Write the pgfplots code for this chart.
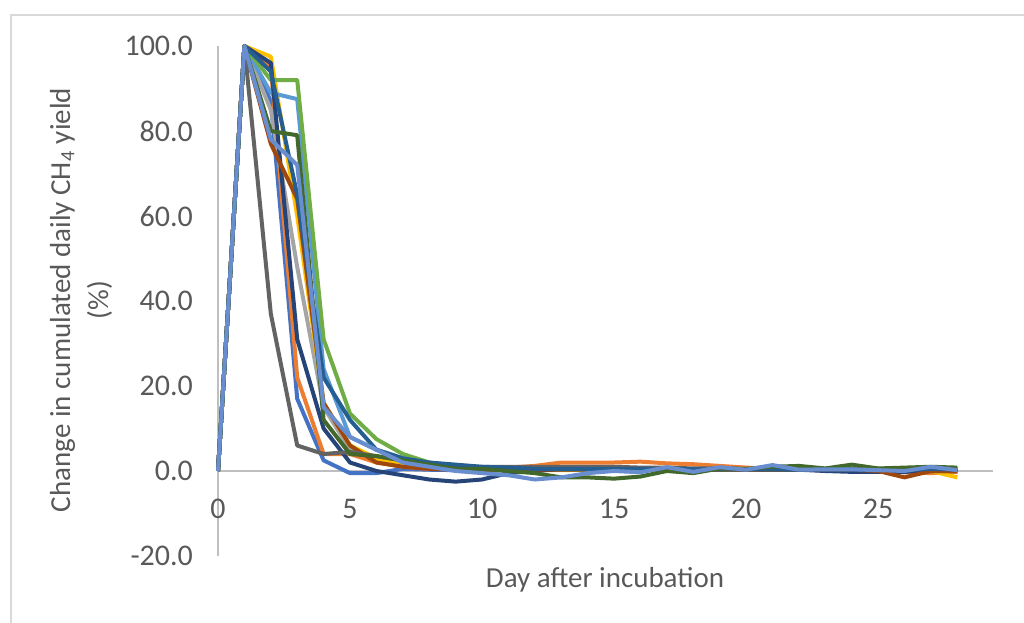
\documentclass[border=0pt]{standalone}
\usepackage{pgfplots}
\pgfplotsset{compat=1.18}
\usepackage{pgfplotstable}
\usepackage{fontspec}
\setmainfont{Carlito}
\definecolor{txt}{HTML}{595959}
\definecolor{axl}{HTML}{BFBFBF}
\definecolor{frm}{HTML}{D9D9D9}
\definecolor{c1}{HTML}{4472C4}
\definecolor{c2}{HTML}{ED7D31}
\definecolor{c3}{HTML}{A5A5A5}
\definecolor{c4}{HTML}{FFC000}
\definecolor{c5}{HTML}{5B9BD5}
\definecolor{c6}{HTML}{70AD47}
\definecolor{c7}{HTML}{264478}
\definecolor{c8}{HTML}{9E480E}
\definecolor{c9}{HTML}{636363}
\definecolor{c10}{HTML}{255E91}
\definecolor{c11}{HTML}{43682B}
\definecolor{c12}{HTML}{698ED0}
\pgfplotstableread{
d s1 s2 s3 s4 s5 s6 s7 s8 s9 s10 s11 s12
0 0 0 0 0 0 0 0 0 0 0 0 0
1 100 100 100 100 100 100 100 100 100 100 100 100
2 87 95 85 97.5 89 92 96 77 37 94 80 78
3 17 22 48 60 87.5 92 31 64 6 65 79 72
4 2.5 4 15 16 24 31 10 16 4 22 12 15
5 -0.5 4 5 6 8 13.5 2 6 4.5 12 4 8
6 -0.5 2 3 3 5 7.5 0 2 3.5 5 3.5 5
7 0.5 1 2 1.5 3 4 -1 1 2.5 3 2.5 2
8 0.3 0.5 1 1 1.5 2 -2 0.5 1.5 2 1.5 1
9 0.2 0.5 0.8 0.5 1 1.2 -2.5 0.3 1 1.5 0.5 0
10 0 0.5 0.6 0.3 0.5 0.8 -2 0.2 1 1 0.5 -0.5
11 0.2 0.8 0.5 0.2 0.3 0.5 -0.5 0.2 1 0.8 0 -1
12 0.3 1.2 0.5 0.2 0.3 0.4 0 0.3 1 0.5 -0.5 -2
13 0.5 2 0.5 0.2 0.3 0.3 0.5 0.3 1 0.5 -1.5 -1.5
14 0.5 2 0.5 0.3 0.3 0.3 0.5 0.3 1 0.5 -1.5 -0.5
15 0.6 2 0.5 0.3 0.3 0.3 0.5 0.3 1 0.5 -1.8 0
16 0.5 2.2 0.5 0.3 0.3 0.3 0.5 0.3 0.8 0.5 -1.3 -0.3
17 0.5 1.8 0.5 0.3 0.3 0.3 0.5 0.3 0.8 0.5 0 0.9
18 0.4 1.6 0.5 0.3 0.3 0.3 0.4 0.3 0.6 0.4 -0.5 -0.2
19 0.6 1.2 0.5 0.3 0.3 0.3 0.4 0.3 0.6 0.4 0.6 0.9
20 0.5 0.8 0.4 0.3 0.3 0.3 0.4 0.3 0.5 0.4 0.5 0.3
21 0.5 0.5 0.4 0.3 0.3 0.3 0.3 0.3 0.5 0.4 1 1.4
22 0.3 0.3 0.3 0.3 0.3 0.3 0.3 0.3 0.5 0.3 1.2 0.3
23 0.3 0.2 0.3 0.2 0.3 0.3 0 0.3 0.5 0.3 0.6 0.4
24 0.2 0 0.3 0.2 0.3 0.3 -0.2 0.3 0.5 0.3 1.5 0.4
25 0.2 -0.2 0.3 0.1 0.3 0.3 -0.2 0 0.5 0.2 0.6 0.2
26 0 -0.3 0.3 0 0.3 0.3 -0.2 -1.5 0.5 0.2 0.8 0
27 0.5 -0.5 0.3 0 0.3 0.3 0 0 0.5 0.5 1 1
28 0.2 -0.2 0.3 -1.5 0.3 0.3 0 0 0.5 0.3 0.8 0.2
}\data
\begin{document}
\begin{tikzpicture}
\useasboundingbox (0,0) rectangle (512pt,-311pt);
\draw[frm, line width=0.6pt] (5.5pt,-330pt) -- (5.5pt,-7.5pt) -- (530pt,-7.5pt);
\begin{axis}[
  at={(109pt,-278pt)}, anchor=south west,
  scale only axis, width=387.5pt, height=255pt,
  xmin=0, xmax=29.35, ymin=-20, ymax=100,
  axis x line=middle, axis y line=left,
  hide obscured x ticks=false,
  axis line style={axl, line width=0.8pt, -},
  major tick length=0pt,
  xtick={0,5,10,15,20,25}, xticklabels={0,5,10,15,20,25},
  ytick={-20,0,20,40,60,80,100},
  yticklabels={-20.0,0.0,20.0,40.0,60.0,80.0,100.0},
  tick label style={font=\fontsize{15}{18}\selectfont, text=txt},
  xticklabel style={yshift=-10.5pt},
  yticklabel style={xshift=-9pt},
  clip=false,
  every axis plot/.append style={line width=2pt, line join=round, no markers},
]
\addplot[c1] table[x=d,y=s1]{\data};
\addplot[c2] table[x=d,y=s2]{\data};
\addplot[c3] table[x=d,y=s3]{\data};
\addplot[c4] table[x=d,y=s4]{\data};
\addplot[c5] table[x=d,y=s5]{\data};
\addplot[c6] table[x=d,y=s6]{\data};
\addplot[c7] table[x=d,y=s7]{\data};
\addplot[c8] table[x=d,y=s8]{\data};
\addplot[c9] table[x=d,y=s9]{\data};
\addplot[c10] table[x=d,y=s10]{\data};
\addplot[c11] table[x=d,y=s11]{\data};
\addplot[c12] table[x=d,y=s12]{\data};
\end{axis}
\node[rotate=90, align=center, text=txt, font=\fontsize{14.5}{19}\selectfont] at (40.5pt,-150pt) {Change in cumulated daily CH\textsubscript{4} yield\\(\%)};
\node[text=txt, font=\fontsize{14.5}{17}\selectfont] at (302.5pt,-290pt) {Day after incubation};
\end{tikzpicture}
\end{document}
